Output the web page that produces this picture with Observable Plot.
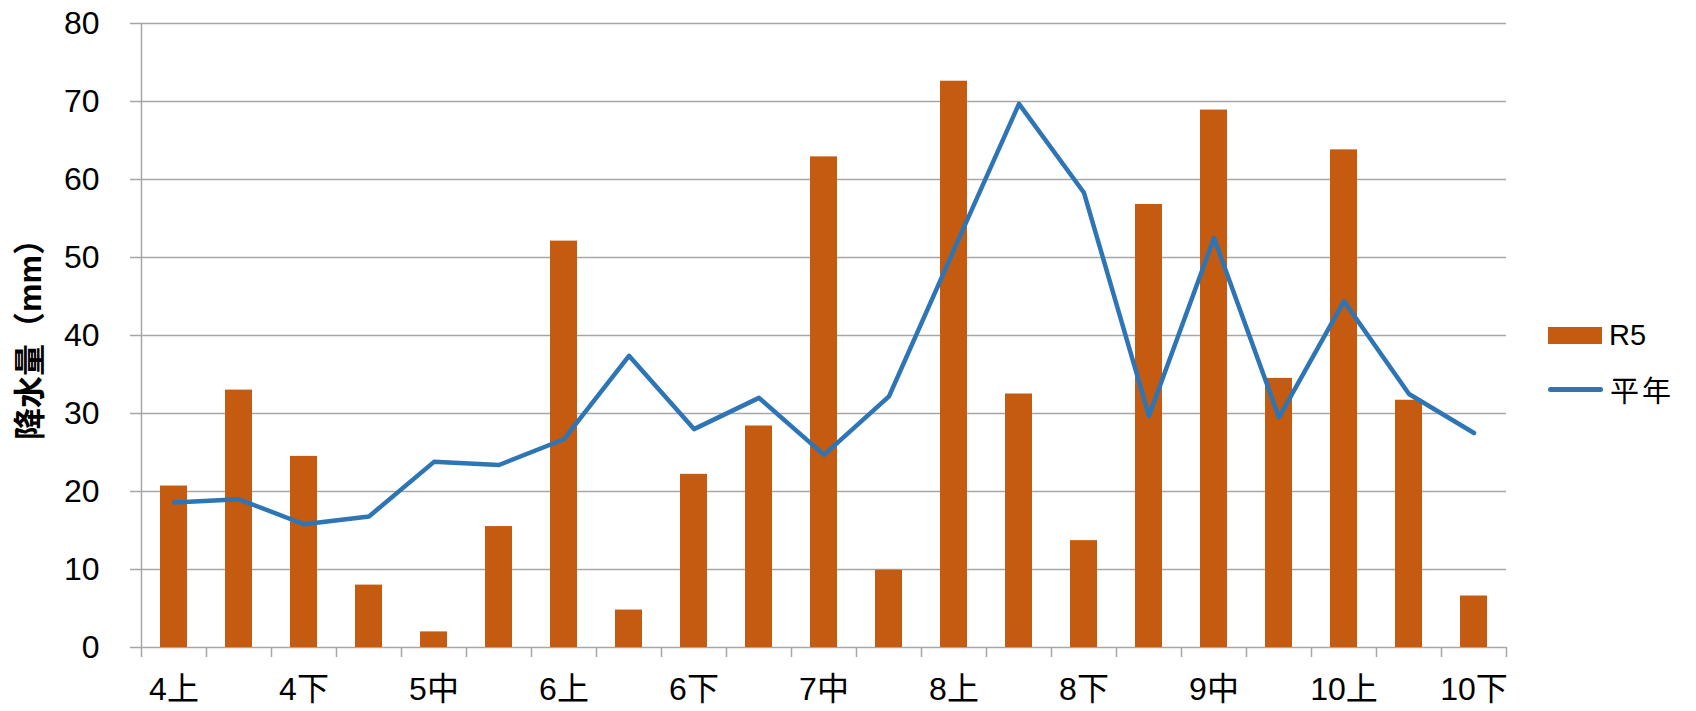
<!DOCTYPE html>
<html>
<head>
<meta charset="utf-8">
<script src="https://cdn.jsdelivr.net/npm/d3@7"></script>
<script src="https://cdn.jsdelivr.net/npm/@observablehq/plot@0.6"></script>
<style>
  body { margin: 0; background: #fff; }
  #wrap { position: relative; width: 1696px; height: 711px; font-family: "Liberation Sans", "Noto Sans CJK JP", sans-serif; }
  .legend { position: absolute; left: 1548px; top: 317px; font-size: 29px; color: #000; }
  .row { display: flex; align-items: center; height: 36px; margin-bottom: 18px; }
  .swatch-bar { width: 54px; height: 17px; margin-right: 7px; }
  .swatch-line { width: 55px; height: 5px; border-radius: 3px; margin-right: 7px; }
  .cjk { letter-spacing: 3px; }
</style>
</head>
<body>
<div id="wrap"></div>
<script>
// 旬別降水量（mm）: R5 と平年値
const periods = ["4上","4中","4下","5上","5中","5下","6上","6中","6下","7上","7中","7下","8上","8中","8下","9上","9中","9下","10上","10中","10下"];
const r5 = [20.7, 33.0, 24.5, 8.0, 2.0, 15.5, 52.1, 4.8, 22.2, 28.4, 62.9, 9.9, 72.6, 32.5, 13.7, 56.8, 68.9, 34.5, 63.8, 31.7, 6.6];
const normal = [18.6, 19.0, 15.8, 16.8, 23.8, 23.4, 26.7, 37.4, 28.0, 32.0, 24.7, 32.2, 51.0, 69.7, 58.3, 29.7, 52.5, 29.5, 44.4, 32.5, 27.5];
const yTicks = [0, 10, 20, 30, 40, 50, 60, 70, 80];
const xLabels = ["4上","4下","5中","6上","6下","7中","8上","8下","9中","10上","10下"];
const seriesNames = ["R5", "平年"];
const yTitle = "降水量（mm）";

const barColor = "#C55A11";
const lineColor = "#2E75B6";
const gridColor = "#a6a6a6";

const rows = periods.map((p, i) => ({period: p, r5: r5[i], normal: normal[i]}));
const half = (1696 - 141 - 190) / periods.length / 2;

const chart = Plot.plot({
  width: 1696,
  height: 711,
  marginLeft: 141,
  marginRight: 190,
  marginTop: 23,
  marginBottom: 64,
  style: {fontFamily: "'Liberation Sans', 'Noto Sans CJK JP', sans-serif", fontSize: "32px", color: "#000", background: "#fff"},
  x: {type: "band", domain: periods, padding: 0},
  y: {domain: [0, 80]},
  marks: [
    Plot.gridY(yTicks, {stroke: gridColor, strokeOpacity: 1, strokeWidth: 1.5}),
    Plot.axisY(yTicks, {tickSize: 11, tickPadding: 31, stroke: gridColor, strokeWidth: 1.5, fill: "#000", fontSize: 32, label: null}),
    Plot.frame({anchor: "left", stroke: gridColor, strokeWidth: 1.5}),
    // tick marks on the category boundaries
    Plot.ruleX(periods, {x: d => d, dx: -half, y1: 0, y2: 0, insetBottom: -10, stroke: gridColor, strokeWidth: 1.5}),
    Plot.ruleX([periods[periods.length - 1]], {x: d => d, dx: half, y1: 0, y2: 0, insetBottom: -10, stroke: gridColor, strokeWidth: 1.5}),
    Plot.axisX(xLabels, {tickSize: 0, tickPadding: 30, fill: "#000", fontSize: 32, label: null}),
    Plot.barY(rows, {x: "period", y: "r5", fill: barColor, insetLeft: 19, insetRight: 19}),
    Plot.lineY(rows, {x: "period", y: "normal", stroke: lineColor, strokeWidth: 4.5, strokeLinecap: "round", strokeLinejoin: "round"}),
    Plot.text([yTitle], {frameAnchor: "left", dx: -111, dy: -4, rotate: -90, textAnchor: "middle", fontSize: 32, fontWeight: "bold", fill: "#000"})
  ]
});

const wrap = document.getElementById("wrap");
wrap.appendChild(chart);

const legend = document.createElement("div");
legend.className = "legend";
legend.innerHTML =
  `<div class="row"><div class="swatch-bar" style="background:${barColor}"></div><span>${seriesNames[0]}</span></div>` +
  `<div class="row"><div class="swatch-line" style="background:${lineColor}"></div><span class="cjk">${seriesNames[1]}</span></div>`;
wrap.appendChild(legend);
</script>
</body>
</html>
